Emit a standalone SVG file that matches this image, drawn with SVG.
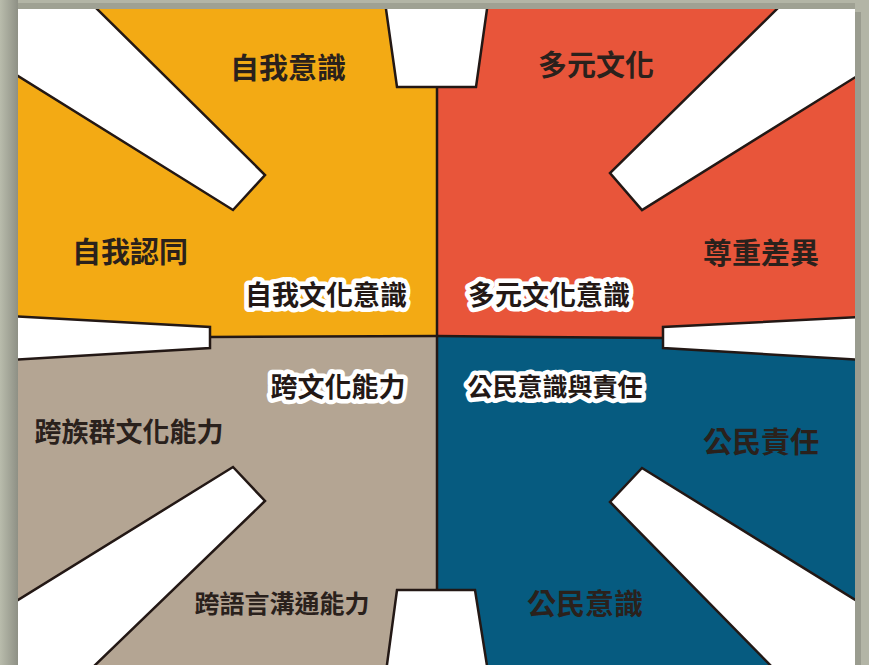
<svg xmlns="http://www.w3.org/2000/svg" width="869" height="665" viewBox="0 0 869 665">
<defs>
<style>
.beam{fill:#fff;stroke:#231815;stroke-width:2.5;stroke-linejoin:miter}
.div{stroke:#231815;stroke-width:2.5;fill:none}
.lbl{font-family:"Noto Sans CJK TC","Noto Sans CJK SC",sans-serif;font-weight:700;fill:#2a211c;text-anchor:middle;dominant-baseline:central}
.halo{font-family:"Noto Sans CJK TC","Noto Sans CJK SC",sans-serif;font-weight:700;fill:#231815;stroke:#fff;stroke-width:9;stroke-linejoin:round;paint-order:stroke;text-anchor:middle;dominant-baseline:central}
</style>
<clipPath id="panel"><rect x="18" y="9" width="837" height="656"/></clipPath>
<linearGradient id="shadeL" x1="0" y1="0" x2="1" y2="0">
<stop offset="0" stop-color="#b9bcac"/><stop offset="1" stop-color="#8e9085"/>
</linearGradient>
</defs>
<rect x="0" y="0" width="869" height="665" fill="#b3b5a6"/>
<rect x="0" y="0" width="18" height="665" fill="url(#shadeL)"/>
<rect x="855" y="12" width="6" height="653" fill="#9a9c8f"/>
<rect x="18" y="3" width="837" height="6" fill="#9fa193"/>
<g clip-path="url(#panel)">
<g id="q-self"><rect x="18" y="9" width="419" height="328" fill="#f3aa14"/></g>
<g id="q-multi"><rect x="437" y="9" width="418" height="328" fill="#e8553a"/></g>
<g id="q-inter"><rect x="18" y="337" width="419" height="328" fill="#b4a593"/></g>
<g id="q-civic"><rect x="437" y="337" width="418" height="328" fill="#065b80"/></g>
<g id="dividers">
<line class="div" x1="437" y1="87" x2="437" y2="590"/>
<polyline class="div" points="210,337 437,336 663,338"/>
</g>
<g id="beams">
<polygon class="beam" points="10,4 92,4 265,175 233,210 10,71"/>
<polygon class="beam" points="385,2 488,2 476,87 397,87"/>
<polygon class="beam" points="782,4 862,4 862,73 642,210 610,173"/>
<polygon class="beam" points="10,316 210,327 210,348 10,360"/>
<polygon class="beam" points="862,317 663,327 663,348 862,360"/>
<polygon class="beam" points="10,605 233,467 265,501 90,670 10,670"/>
<polygon class="beam" points="397,590 475,590 488,672 386,672"/>
<polygon class="beam" points="642,468 862,604 862,670 775,670 610,502"/>
</g>
</g>
<g id="labels">
<text class="lbl" x="288" y="66" font-size="29">自我意識</text>
<text class="lbl" x="596" y="63" font-size="29">多元文化</text>
<text class="lbl" x="130" y="250" font-size="29">自我認同</text>
<text class="lbl" x="761" y="251" font-size="29">尊重差異</text>
<text class="lbl" x="129" y="430" font-size="27">跨族群文化能力</text>
<text class="lbl" x="761" y="440" font-size="29">公民責任</text>
<text class="lbl" x="282" y="602" font-size="25">跨語言溝通能力</text>
<text class="lbl" x="585" y="602" font-size="29">公民意識</text>
</g>
<g id="core-labels">
<text class="halo" x="326" y="293" font-size="27">自我文化意識</text>
<text class="halo" x="549" y="293" font-size="27">多元文化意識</text>
<text class="halo" x="338" y="385" font-size="27">跨文化能力</text>
<text class="halo" x="555" y="385" font-size="25">公民意識與責任</text>
</g>
</svg>
